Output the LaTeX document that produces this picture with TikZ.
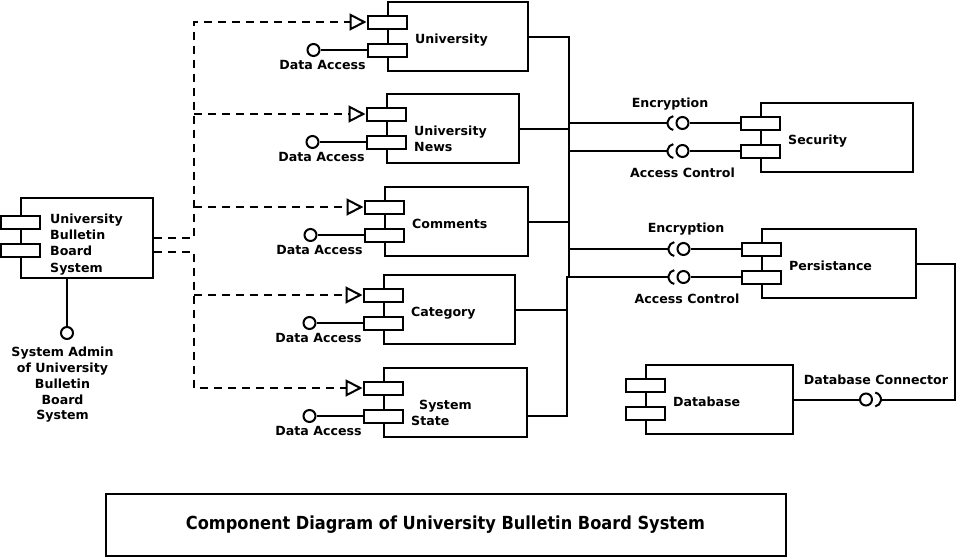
\documentclass[tikz,border=0pt]{standalone}
\usepackage{fontspec}
\setsansfont{DejaVu Sans}
\newfontfamily\titlefont{DejaVu Sans Condensed}
\usetikzlibrary{calc,arrows.meta}

% component box: name, x, y (top left), width, height, text
\newcommand{\umlcomp}[6]{%
  \node[comp, minimum width=#4pt, minimum height=#5pt] (#1) at (#2,#3) {};
  \node[port] (#1-p1) at ($(#1.north west)+(0,21)$) {};
  \node[port] (#1-p2) at ($(#1.north west)+(0,49)$) {};
  \node[cname] at ($(#1.west)+(28,-2.5)$) {#6};
}
% socket round a ball: ball, side (-1 left, 1 right), name of open end
\newcommand{\socket}[3]{%
  \coordinate (#3) at ($(#1)+(#2*15,0)$);
  \draw[wire] ($(#1)+(#2*8,0)+({-90*#2+10}:7)$) arc ({-90*#2+10}:{-90*#2+170}:7);
}

\begin{document}
\begin{tikzpicture}[x=1pt, y=-1pt,
    wire/.style={line width=2pt},
    comp/.style={draw, line width=2pt, anchor=north west, inner sep=0pt},
    port/.style={draw, line width=2pt, fill=white, minimum width=39pt, minimum height=13pt, inner sep=0pt},
    ball/.style={draw, circle, line width=2pt, minimum size=12pt, inner sep=0pt},
    lbl/.style={font=\sffamily\bfseries\fontsize{12.6}{15.8}\selectfont, inner sep=0pt, align=center},
    cname/.style={lbl, align=left, anchor=north west},
    realize/.style={wire, dash pattern=on 8pt off 6pt, -{Triangle[open, length=17pt, width=17pt]}}]
  \useasboundingbox (0,0) rectangle (956,558);

  %%%%% system %%%%%
  \node[comp, minimum width=132pt, minimum height=80pt] (ubbs) at (20,197) {};
  \node[port] (ubbs-p1) at ($(ubbs.north west)+(0,25)$) {};
  \node[port] (ubbs-p2) at ($(ubbs.north west)+(0,53)$) {};
  \node[cname, font=\sffamily\bfseries\fontsize{12.6}{16.3}\selectfont] at ($(ubbs.west)+(30,-24.5)$) {University\\Bulletin\\Board\\System};

  \node[ball] (admin) at ($(ubbs.south west)+(47,54)$) {};
  \draw[wire] (ubbs.south west -| admin) -- (admin);
  \node[lbl, anchor=north] at ($(admin.south)+(-4.5,7)$) {System Admin\\of University\\Bulletin\\Board\\System};

  %%%%% modules %%%%%
  \umlcomp{univ}{387}{1}{140}{69}{University}
  \umlcomp{news}{386}{93}{132}{69}{University\\News}
  \umlcomp{comm}{384}{186}{143}{69}{Comments}
  \umlcomp{cat}{383}{274}{131}{69}{Category}
  \umlcomp{state}{383}{367}{143}{69}{\hspace{8pt}System\\State}

  \foreach \c in {univ,news,comm,cat,state} {
    \node[ball] (\c-da) at ($(\c-p2.west)+(-53,0)$) {};
    \draw[wire] (\c-p2.west) -- (\c-da);
    \node[lbl] at ($(\c-da)+(9,15)$) {Data Access};
  }

  % realization
  \coordinate (busT) at ($(ubbs.east)+(40,0)$);
  \coordinate (busB) at ($(ubbs.east)+(40,14)$);
  \draw[realize] (ubbs.east) -- (busT) |- (univ-p1.west);
  \draw[realize] (ubbs.east |- busB) -- (busB) |- (state-p1.west);
  \foreach \c in {news,comm}
    \draw[realize] (busT |- \c-p1) -- (\c-p1.west);
  \draw[realize] (busB |- cat-p1) -- (cat-p1.west);

  %%%%% services %%%%%
  \umlcomp{sec}{760}{102}{152}{69}{Security}
  \umlcomp{pers}{761}{228}{154}{69}{Persistance}
  \umlcomp{db}{645}{364}{147}{69}{Database}

  \foreach \s in {sec,pers} {
    \node[ball] (\s-enc) at ($(\s-p1.west)+(-57,0)$) {};
    \node[ball] (\s-ac) at ($(\s-p2.west)+(-57,0)$) {};
    \draw[wire] (\s-p1.west) -- (\s-enc);
    \draw[wire] (\s-p2.west) -- (\s-ac);
    \socket{\s-enc}{-1}{\s-enc-o}
    \socket{\s-ac}{-1}{\s-ac-o}
  }
  \node[lbl] at ($(sec-enc)+(-12.5,-19)$) {Encryption};
  \node[lbl] at ($(sec-ac)+(0,22)$) {Access Control};
  \node[lbl] at ($(pers-enc)+(2.5,-20)$) {Encryption};
  \node[lbl] at ($(pers-ac)+(3.5,22)$) {Access Control};

  % trunk
  \coordinate (trunkA) at (569,0);
  \coordinate (trunkB) at (567,0);
  \draw[wire] (univ.east) -- (univ.east -| trunkA) -- (trunkA |- pers-ac);
  \foreach \c in {news,comm}
    \draw[wire] (\c.east) -- (\c.east -| trunkA);
  \draw[wire] (cat.east) -- (cat.east -| trunkB);
  \draw[wire] (state.east |- state-p2) -- (trunkB |- state-p2) -- (trunkB |- pers-ac) -- (pers-ac-o);
  \draw[wire] (trunkA |- sec-enc-o) -- (sec-enc-o);
  \draw[wire] (trunkA |- sec-ac-o) -- (sec-ac-o);
  \draw[wire] (trunkA |- pers-enc-o) -- (pers-enc-o);

  % database connector
  \node[ball] (dbcon) at ($(db.east)+(72,0)$) {};
  \draw[wire] (db.east) -- (dbcon);
  \socket{dbcon}{1}{dbcon-o}
  \node[lbl] at ($(dbcon)+(10,-20)$) {Database Connector};
  \coordinate (rim) at (955,0);
  \draw[wire] (pers.east) -- (pers.east -| rim) |- (dbcon-o);

  %%%%% title %%%%%
  \node[draw, line width=2pt, minimum width=680pt, minimum height=62pt, inner sep=0pt,
    font=\titlefont\bfseries\fontsize{18}{21}\selectfont] (title) at (445.5,524.5)
    {Component Diagram of University Bulletin Board System};
\end{tikzpicture}
\end{document}
